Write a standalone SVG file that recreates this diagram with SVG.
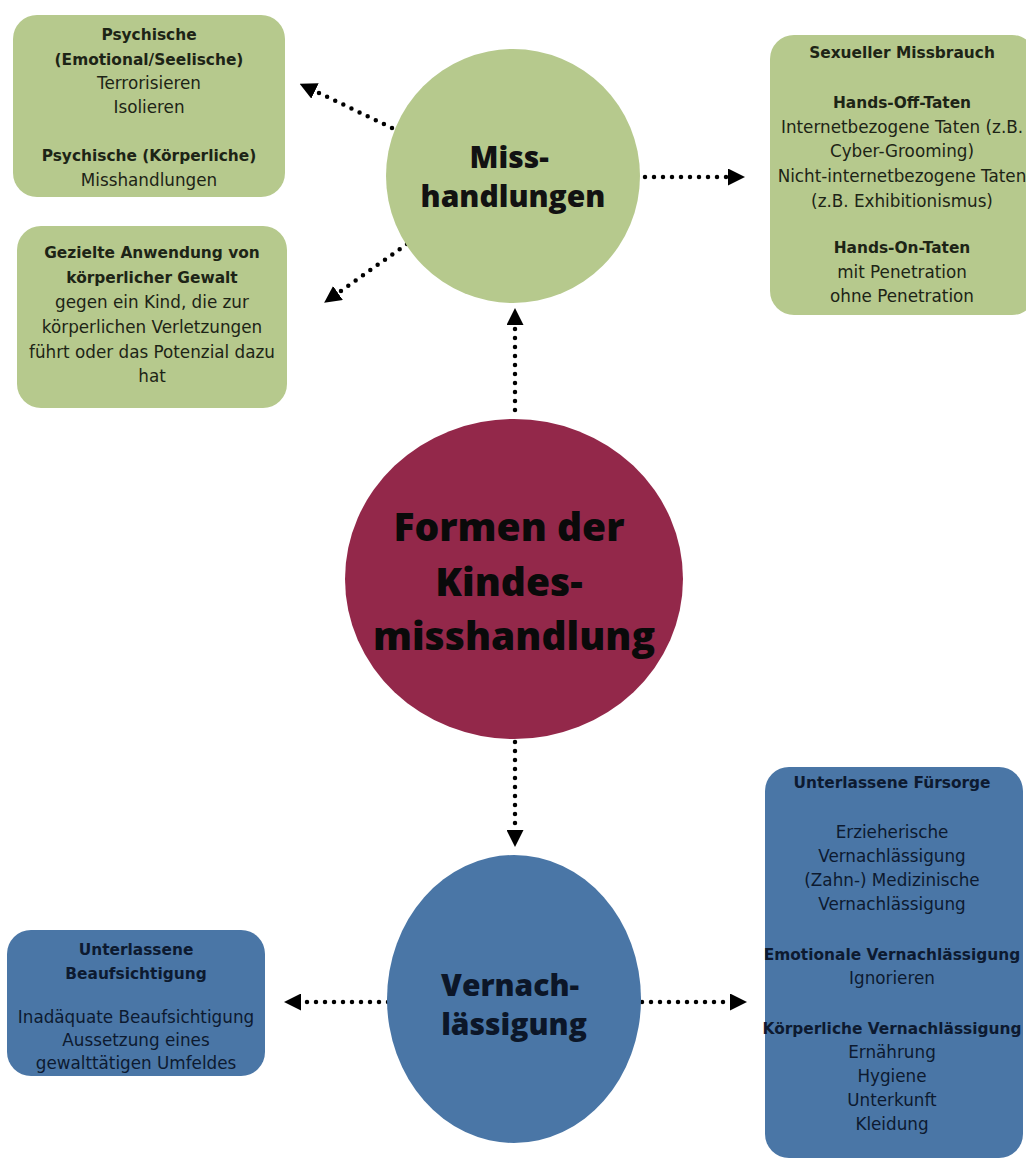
<svg xmlns="http://www.w3.org/2000/svg" width="1026" height="1162" viewBox="0 0 1026 1162">
<style>
  .bg { fill: #ffffff; }
  .gbox { fill: #b6c98d; }
  .bbox { fill: #4a76a6; }
  .h { font-family: "DejaVu Sans", "Open Sans", sans-serif; font-weight: 700; font-size: 15.4px; text-anchor: middle; }
  .t { font-family: "DejaVu Sans", "Open Sans", sans-serif; font-weight: 400; font-size: 16.8px; text-anchor: middle; }
  .gt { fill: #1d2416; }
  .bt { fill: #0d1a30; }
  .big { font-family: "Open Sans", "DejaVu Sans", sans-serif; font-weight: 800; text-anchor: middle; }
  .conn { fill: none; stroke: #000; stroke-width: 4.5; stroke-linecap: round; stroke-dasharray: 0 9; }
</style>
<defs>
  <marker id="ah" viewBox="0 0 10 10" refX="0" refY="5" markerUnits="userSpaceOnUse" markerWidth="17" markerHeight="17" orient="auto">
    <path d="M0,0 L10,5 L0,10 z" fill="#000"/>
  </marker>
</defs>
<rect class="bg" x="0" y="0" width="1026" height="1162"/>

<g id="connectors">
  <path class="conn" d="M392,128 L315,91" marker-end="url(#ah)"/>
  <path class="conn" d="M407,244 L338,293" marker-end="url(#ah)"/>
  <path class="conn" d="M645,177 L728,177" marker-end="url(#ah)"/>
  <path class="conn" d="M515,410 L515,325" marker-end="url(#ah)"/>
  <path class="conn" d="M515,742 L515,830" marker-end="url(#ah)"/>
  <path class="conn" d="M388,1002 L301,1002" marker-end="url(#ah)"/>
  <path class="conn" d="M642,1002 L730,1002" marker-end="url(#ah)"/>
</g>

<g id="node-center">
  <ellipse cx="514" cy="579" rx="169" ry="160" fill="#93284a"/>
  <text class="big" font-size="39" fill="#0a0a0a">
    <tspan x="514" y="541">Formen der</tspan>
    <tspan x="514" y="596">Kindes-</tspan>
    <tspan x="514" y="650">misshandlung</tspan>
  </text>
</g>

<g id="node-misshandlungen">
  <circle cx="513" cy="176" r="127" fill="#b6c98d"/>
  <text class="big" font-size="30" fill="#121212">
    <tspan x="513" y="168">Miss-</tspan>
    <tspan x="513" y="207">handlungen</tspan>
  </text>
</g>

<g id="node-vernachlaessigung">
  <ellipse cx="514" cy="999" rx="127" ry="144" fill="#4a76a6"/>
  <text class="big" font-size="30" fill="#0c1628">
    <tspan x="514" y="996">Vernach-</tspan>
    <tspan x="514" y="1035">lässigung</tspan>
  </text>
</g>

<g id="box-psychische">
  <rect class="gbox" x="13" y="15" width="272" height="182" rx="24"/>
  <text class="h gt" x="149" y="40">Psychische</text>
  <text class="h gt" x="149" y="65">(Emotional/Seelische)</text>
  <text class="t gt" x="149" y="89">Terrorisieren</text>
  <text class="t gt" x="149" y="113">Isolieren</text>
  <text class="h gt" x="149" y="161">Psychische (Körperliche)</text>
  <text class="t gt" x="149" y="186">Misshandlungen</text>
</g>

<g id="box-koerperlich">
  <rect class="gbox" x="17" y="226" width="270" height="182" rx="24"/>
  <text class="h gt" x="152" y="258">Gezielte Anwendung von</text>
  <text class="h gt" x="152" y="283">körperlicher Gewalt</text>
  <text class="t gt" x="152" y="308">gegen ein Kind, die zur</text>
  <text class="t gt" x="152" y="333">körperlichen Verletzungen</text>
  <text class="t gt" x="152" y="358">führt oder das Potenzial dazu</text>
  <text class="t gt" x="152" y="382">hat</text>
</g>

<g id="box-sexuell">
  <rect class="gbox" x="770" y="35" width="266" height="280" rx="24"/>
  <text class="h gt" x="902" y="58">Sexueller Missbrauch</text>
  <text class="h gt" x="902" y="108">Hands-Off-Taten</text>
  <text class="t gt" x="902" y="133">Internetbezogene Taten (z.B.</text>
  <text class="t gt" x="902" y="157">Cyber-Grooming)</text>
  <text class="t gt" x="902" y="182">Nicht-internetbezogene Taten</text>
  <text class="t gt" x="902" y="207">(z.B. Exhibitionismus)</text>
  <text class="h gt" x="902" y="253">Hands-On-Taten</text>
  <text class="t gt" x="902" y="278">mit Penetration</text>
  <text class="t gt" x="902" y="302">ohne Penetration</text>
</g>

<g id="box-fuersorge">
  <rect class="bbox" x="765" y="767" width="258" height="391" rx="24"/>
  <text class="h bt" x="892" y="788">Unterlassene Fürsorge</text>
  <text class="t bt" x="892" y="838">Erzieherische</text>
  <text class="t bt" x="892" y="862">Vernachlässigung</text>
  <text class="t bt" x="892" y="886">(Zahn-) Medizinische</text>
  <text class="t bt" x="892" y="910">Vernachlässigung</text>
  <text class="h bt" x="892" y="960">Emotionale Vernachlässigung</text>
  <text class="t bt" x="892" y="984">Ignorieren</text>
  <text class="h bt" x="892" y="1034">Körperliche Vernachlässigung</text>
  <text class="t bt" x="892" y="1058">Ernährung</text>
  <text class="t bt" x="892" y="1082">Hygiene</text>
  <text class="t bt" x="892" y="1106">Unterkunft</text>
  <text class="t bt" x="892" y="1130">Kleidung</text>
</g>

<g id="box-beaufsichtigung">
  <rect class="bbox" x="7" y="930" width="258" height="146" rx="24"/>
  <text class="h bt" x="136" y="955">Unterlassene</text>
  <text class="h bt" x="136" y="979">Beaufsichtigung</text>
  <text class="t bt" x="136" y="1023">Inadäquate Beaufsichtigung</text>
  <text class="t bt" x="136" y="1046">Aussetzung eines</text>
  <text class="t bt" x="136" y="1069">gewalttätigen Umfeldes</text>
</g>
</svg>
